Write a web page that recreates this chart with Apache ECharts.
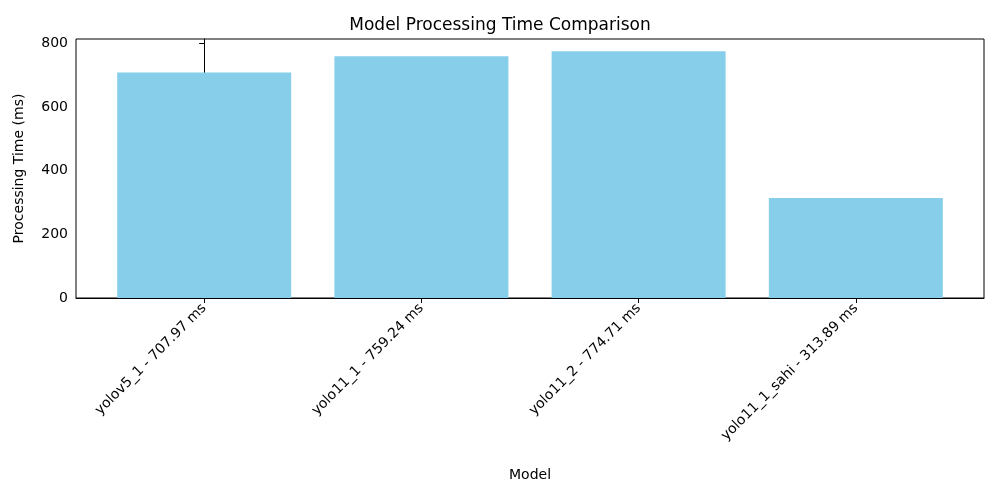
<!DOCTYPE html>
<html><head><meta charset="utf-8">
<script src="https://cdn.jsdelivr.net/npm/echarts@6/dist/echarts.min.js"></script>
<style>html,body{margin:0;background:#fff}#c{width:1000px;height:500px}</style>
</head><body><div id="c"></div>
<script>
const models = ['yolov5_1', 'yolo11_1', 'yolo11_2', 'yolo11_1_sahi'];
const times = [707.97, 759.24, 774.71, 313.89];
const yTicks = [0, 200, 400, 600, 800];

const labels = models.map((m, i) => m + ' - ' + times[i].toFixed(2) + ' ms');
const font = 'DejaVu Sans';
const chart = echarts.init(document.getElementById('c'));
chart.setOption({
  animation: false,
  title: { text: 'Model Processing Time Comparison', left: 'center', top: 12,
    textStyle: { fontFamily: font, fontSize: 17, fontWeight: 'normal', color: '#000' } },
  grid: { left: 76, right: 16, top: 39, bottom: 202, show: true, borderColor: '#000', borderWidth: 1 },
  xAxis: {
    type: 'value', min: -0.59, max: 3.59,
    name: 'Model', nameLocation: 'middle', nameGap: 170,
    nameTextStyle: { fontFamily: font, fontSize: 14, color: '#000' },
    splitLine: { show: false },
    axisLine: { lineStyle: { color: '#000' } },
    axisTick: { customValues: [0, 1, 2, 3], length: 5, lineStyle: { color: '#000' } },
    axisLabel: { customValues: [0, 1, 2, 3], rotate: 45, fontFamily: font, fontSize: 14, color: '#000',
      formatter: v => labels[Math.round(v)] }
  },
  yAxis: {
    type: 'value', min: 0, max: 813.4, interval: 200,
    name: 'Processing Time (ms)', nameLocation: 'middle', nameGap: 50,
    nameTextStyle: { fontFamily: font, fontSize: 14, color: '#000' },
    splitLine: { show: false },
    axisLine: { show: true, lineStyle: { color: '#000' } },
    axisTick: { show: true, customValues: yTicks, length: 5, lineStyle: { color: '#000' } },
    axisLabel: { customValues: yTicks, fontFamily: font, fontSize: 14, color: '#000' }
  },
  series: [{
    type: 'bar', barWidth: 174,
    itemStyle: { color: '#87ceeb' },
    data: times.map((t, i) => [i, t])
  }]
});
</script></body></html>
